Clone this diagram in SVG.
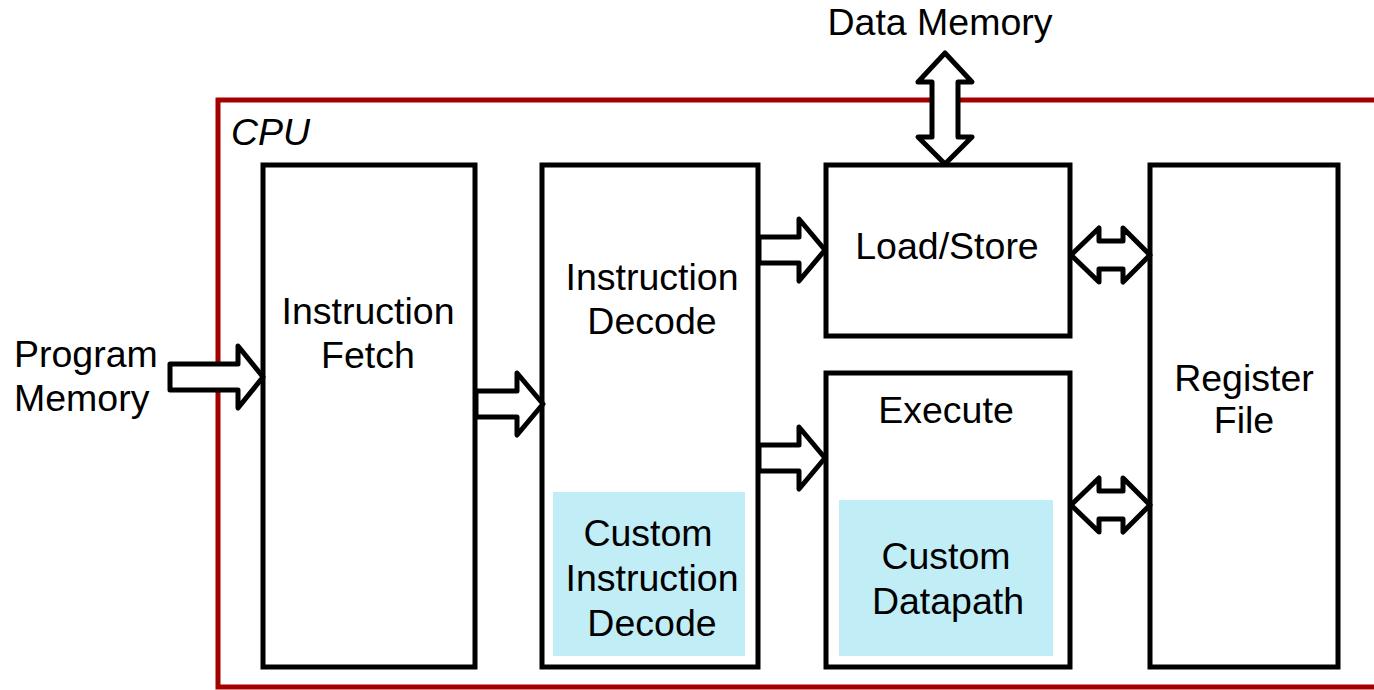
<svg xmlns="http://www.w3.org/2000/svg" width="1374" height="690" viewBox="0 0 1374 690">
  <style>
    .lbl { font-family: "Liberation Sans", Arial, sans-serif; font-size: 37.5px; fill: #000; text-anchor: middle; }
    .blk { fill: #fff; stroke: #000; stroke-width: 5; }
    .sub { fill: #C1EDF6; stroke: none; }
    .arr { fill: #fff; stroke: #000; stroke-width: 5; stroke-linejoin: round; }
  </style>
  <rect x="0" y="0" width="1374" height="690" fill="#fff"/>

  <!-- CPU boundary (open on the right) -->
  <g id="cpu">
    <path d="M1380 100 H218 V687 H1380" fill="none" stroke="#A50000" stroke-width="5"/>
    <text x="231" y="145" class="lbl" style="text-anchor:start;font-style:italic">CPU</text>
  </g>

  <!-- external labels -->
  <g id="data-memory">
    <text x="940" y="35" class="lbl">Data Memory</text>
  </g>
  <g id="program-memory">
    <text x="14" y="367" class="lbl" style="text-anchor:start">Program</text>
    <text x="14" y="411" class="lbl" style="text-anchor:start">Memory</text>
  </g>

  <!-- pipeline blocks -->
  <g id="fetch">
    <rect x="263" y="165" width="212" height="502" class="blk"/>
    <text x="368" y="324" class="lbl">Instruction</text>
    <text x="368" y="368" class="lbl">Fetch</text>
  </g>
  <g id="decode">
    <rect x="542" y="165" width="216" height="502" class="blk"/>
    <text x="652" y="290" class="lbl">Instruction</text>
    <text x="652" y="334" class="lbl">Decode</text>
  </g>
  <g id="custom-decode">
    <rect x="553" y="492" width="192" height="164" class="sub"/>
    <text x="648" y="546" class="lbl">Custom</text>
    <text x="652" y="591" class="lbl">Instruction</text>
    <text x="652" y="636" class="lbl">Decode</text>
  </g>
  <g id="load-store">
    <rect x="826" y="165" width="244" height="171" class="blk"/>
    <text x="947" y="259" class="lbl">Load/Store</text>
  </g>
  <g id="execute">
    <rect x="826" y="373" width="244" height="294" class="blk"/>
    <text x="946" y="423" class="lbl">Execute</text>
  </g>
  <g id="custom-datapath">
    <rect x="839" y="500" width="214" height="156" class="sub"/>
    <text x="946" y="569" class="lbl">Custom</text>
    <text x="948" y="614" class="lbl">Datapath</text>
  </g>
  <g id="register-file">
    <rect x="1150" y="165" width="188" height="502" class="blk"/>
    <text x="1244" y="391" class="lbl">Register</text>
    <text x="1244" y="433" class="lbl">File</text>
  </g>

  <!-- block arrows -->
  <g id="connectors">
    <!-- program memory to fetch -->
    <path class="arr" d="M170 364 H238 V346 L263 377 L238 408 V390 H170 Z"/>
    <!-- fetch to decode -->
    <path class="arr" d="M476 391 H517 V373 L543 404 L517 435 V417 H476 Z"/>
    <!-- decode to load/store -->
    <path class="arr" d="M759 237 H799 V219 L825 250 L799 281 V263 H759 Z"/>
    <!-- decode to execute -->
    <path class="arr" d="M759 445 H799 V427 L825 458 L799 489 V471 H759 Z"/>
    <!-- load/store to data memory (bidirectional) -->
    <path class="arr" d="M945 53 L972 82 H958 V137 H972 L945 164 L918 137 H932 V82 H918 Z"/>
    <!-- load/store to register file (bidirectional) -->
    <path class="arr" d="M1071 255 L1099 228 V241 H1123 V228 L1150 255 L1123 282 V269 H1099 V282 Z"/>
    <!-- execute to register file (bidirectional) -->
    <path class="arr" d="M1071 505 L1099 478 V491 H1123 V478 L1150 505 L1123 532 V519 H1099 V532 Z"/>
  </g>
</svg>
